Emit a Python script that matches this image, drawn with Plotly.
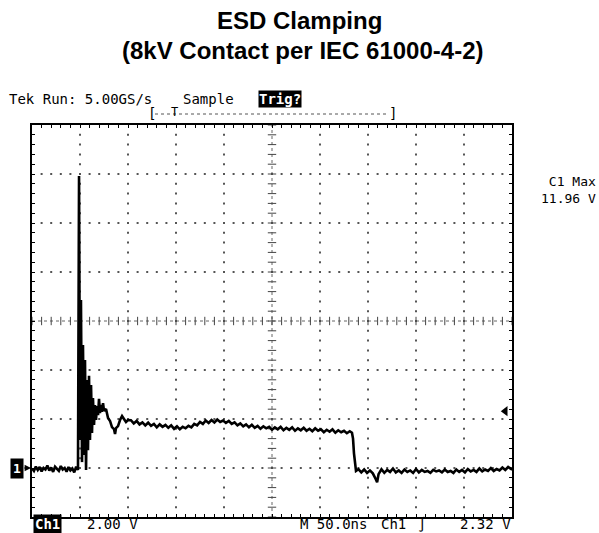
import numpy as np
import plotly.graph_objects as go

# ---------------- data ----------------
# time in ns (50 ns/div, 10 div), voltage in V (2 V/div, ground 1 div above bottom)
t_pre = [0, 2, 4, 6, 8, 10, 12, 14, 16, 18, 20, 22, 24, 26, 28, 30, 32, 34, 36, 38, 40, 42, 44, 46]
v_pre = [-0.02, -0.12, 0.06, -0.08, 0.04, -0.14, 0.0, -0.06, 0.1, -0.1, 0.02, -0.16,
         0.05, -0.04, -0.12, 0.08, -0.06, 0.0, -0.15, 0.04, -0.1, -0.02, -0.18, 0.06]

t_pulse = [47.9, 49.0, 50.0, 51.0, 52.1, 53.1, 54.2, 55.2, 56.3, 57.3, 58.3, 59.4, 60.4,
           61.5, 62.5, 63.5, 64.6, 65.6, 66.7, 67.7, 68.8, 69.8, 70.8, 71.9, 72.9, 74.0,
           75.0, 77.1, 79.2, 81.3, 83.3, 85.4, 86.5, 87.5, 89.6, 91.7, 93.8, 95.8, 97.9, 100.0]
v_pulse = [-0.08, 11.92, 1.14, 6.86, 0.24, 5.02, 0.53, 4.41, -0.08, 3.59, 0.73, 3.76, 1.14,
           3.39, 1.43, 2.86, 1.76, 2.57, 1.96, 2.53, 2.16, 2.82, 2.24, 2.57, 2.29, 2.65,
           2.33, 2.41, 2.04, 1.92, 1.67, 1.59, 1.39, 1.63, 1.71, 1.96, 2.12, 2.0, 1.88, 1.96]

t_plateau = [103, 106, 109, 112, 115, 118, 121, 124, 127, 130, 133, 136, 139, 142, 145, 148,
             151, 154, 157, 160, 163, 166, 169, 172, 175, 178, 181, 184, 187, 190, 193, 196,
             199, 202, 205, 208, 211, 214, 217, 220, 223, 226, 229, 232, 235, 238, 241, 244,
             247, 250, 253, 256, 259, 262, 265, 268, 271, 274, 277, 280, 283, 286, 289, 292,
             295, 298, 301, 304, 307, 310, 313, 316, 319, 322, 325, 328, 331]
v_plateau = [1.95, 1.82, 1.92, 1.78, 1.86, 1.74, 1.85, 1.72, 1.80, 1.66, 1.78, 1.68, 1.76, 1.64,
             1.74, 1.60, 1.70, 1.58, 1.68, 1.62, 1.72, 1.66, 1.80, 1.74, 1.88, 1.80, 1.94, 1.84,
             1.96, 1.86, 1.98, 1.88, 1.94, 1.84, 1.92, 1.80, 1.86, 1.74, 1.82, 1.70, 1.78, 1.66,
             1.76, 1.64, 1.72, 1.60, 1.70, 1.62, 1.68, 1.56, 1.66, 1.58, 1.68, 1.54, 1.64, 1.56,
             1.66, 1.52, 1.62, 1.54, 1.64, 1.52, 1.60, 1.50, 1.62, 1.52, 1.58, 1.46, 1.56, 1.48,
             1.58, 1.44, 1.54, 1.46, 1.52, 1.42, 1.50]

t_fall = [333.3, 334.4, 335.4, 336.5, 337.5]
v_fall = [1.44, 1.2, 0.6, 0.1, -0.12]

t_post = [340, 343, 346, 349, 352, 355, 358, 359.5, 361, 364, 367, 370, 373, 376, 379, 382,
          385, 388, 391, 394, 397, 400, 403, 406, 409, 412, 415, 418, 421, 424, 427, 430,
          433, 436, 439, 442, 445, 448, 451, 454, 457, 460, 463, 466, 469, 472, 475, 478,
          481, 484, 487, 490, 493, 496, 499, 500]
v_post = [-0.05, -0.18, -0.06, -0.2, -0.1, -0.22, -0.45, -0.58, -0.25, -0.05, -0.2, -0.08,
          -0.16, -0.02, -0.18, -0.1, -0.2, -0.06, -0.16, -0.1, -0.2, -0.04, -0.18, -0.08,
          -0.16, -0.12, -0.2, -0.08, -0.14, -0.1, -0.18, -0.06, -0.16, -0.12, -0.2, -0.06,
          -0.16, -0.08, -0.18, -0.04, -0.14, -0.08, -0.16, -0.02, -0.14, -0.06, -0.12, 0.0,
          -0.12, -0.04, -0.1, 0.02, -0.08, 0.04, -0.04, 0.02]

# scope settings
time_div_ns = 50
volt_div = 2.0
n_xdiv = 10
n_ydiv = 8
ground_div = 1          # ground marker one division above bottom
trigger_level = 2.32
c1_max = 11.96

# ---------------- figure ----------------
W, H = 599, 533
L, R, T, B = 32, 87, 125, 16
PW, PH = W - L - R, H - T - B

x_min, x_max = 0, time_div_ns * n_xdiv
y_min = -ground_div * volt_div
y_max = y_min + n_ydiv * volt_div


def px(x, y):
    """pixel position -> paper coordinates"""
    return (x - L) / PW, (H - B - y) / PH


time_ns = t_pre + t_pulse + t_plateau + t_fall + t_post
volts = v_pre + v_pulse + v_plateau + v_fall + v_post

fig = go.Figure()

# graticule dots (every 1/5 division along each major line)
x_major = [x_min + i * time_div_ns for i in range(n_xdiv + 1)]
y_major = [y_min + i * volt_div for i in range(n_ydiv + 1)]
x_minor = np.arange(x_min, x_max + 1e-9, time_div_ns / 5)
y_minor = np.arange(y_min, y_max + 1e-9, volt_div / 5)
x_center = (x_min + x_max) / 2
y_center = (y_min + y_max) / 2

gx, gy = [], []
for xm in x_major[1:-1]:
    if abs(xm - x_center) < 1e-9:
        continue
    for yv in y_minor[1:-1]:
        gx.append(xm)
        gy.append(yv)
for ym in y_major[1:-1]:
    if abs(ym - y_center) < 1e-9:
        continue
    for xv in x_minor[1:-1]:
        gx.append(xv)
        gy.append(ym)
fig.add_trace(go.Scatter(x=gx, y=gy, mode="markers",
                         marker=dict(symbol="square", size=2, color="#555"),
                         hoverinfo="skip"))

# center cross with tick marks
fig.add_shape(type="line", x0=x_center, x1=x_center, y0=y_min, y1=y_max,
              line=dict(color="#666", width=1, dash="dot"), layer="below")
fig.add_shape(type="line", x0=x_min, x1=x_max, y0=y_center, y1=y_center,
              line=dict(color="#666", width=1, dash="dot"), layer="below")
fig.add_trace(go.Scatter(x=[x_center] * len(y_minor), y=list(y_minor), mode="markers",
                         marker=dict(symbol="line-ew", size=6, line=dict(color="#444", width=1)),
                         hoverinfo="skip"))
fig.add_trace(go.Scatter(x=list(x_minor), y=[y_center] * len(x_minor), mode="markers",
                         marker=dict(symbol="line-ns", size=6, line=dict(color="#444", width=1)),
                         hoverinfo="skip"))

# waveform
fig.add_trace(go.Scatter(x=time_ns, y=volts, mode="lines",
                         line=dict(color="black", width=2.6), hoverinfo="skip"))

# trigger level marker (right edge)
fig.add_trace(go.Scatter(x=[x_max - 7], y=[trigger_level], mode="markers",
                         marker=dict(symbol="triangle-left", size=9, color="black"),
                         hoverinfo="skip"))

fig.update_xaxes(range=[x_min, x_max], showgrid=False, zeroline=False,
                 showline=True, linecolor="black", linewidth=2, mirror="allticks",
                 ticks="inside", ticklen=3, tickwidth=1, tickcolor="black",
                 tick0=x_min, dtick=time_div_ns / 5, showticklabels=False, fixedrange=True)
fig.update_yaxes(range=[y_min, y_max], showgrid=False, zeroline=False,
                 showline=True, linecolor="black", linewidth=2, mirror="allticks",
                 ticks="inside", ticklen=3, tickwidth=1, tickcolor="black",
                 tick0=y_min, dtick=volt_div / 5, showticklabels=False, fixedrange=True)

TITLE_FONT = dict(family="Liberation Sans", size=24, color="black")
TEK = dict(family="DejaVu Sans Mono", size=14, color="black")
TEK_INV = dict(family="DejaVu Sans Mono", size=14, color="white")

ann = []


def add_text(text, x, y, font, xanchor="left", bg=None, pad=0, align="left"):
    xp, yp = px(x, y)
    d = dict(text=text, x=xp, y=yp, xref="paper", yref="paper", showarrow=False,
             xanchor=xanchor, yanchor="middle", font=font, borderpad=pad, align=align)
    if bg:
        d["bgcolor"] = bg
    ann.append(d)


add_text("<b>ESD Clamping</b>", 299.5, 21, TITLE_FONT, "center")
add_text("<b>(8kV Contact per IEC 61000-4-2)</b>", 302, 50, TITLE_FONT, "center")

add_text("Tek Run: 5.00GS/s", 8, 99, TEK)
add_text("Sample", 182, 99, TEK)
add_text("<b>Trig?</b>", 258, 99, TEK_INV, bg="black")

# record view bracket
add_text("[", 147, 113, TEK)
add_text("T", 170, 112, dict(family="DejaVu Sans Mono", size=12, color="black"))
add_text("]", 388, 113, TEK)
x0p, y0p = px(155, 114)
x1p, _ = px(389, 114)
fig.add_shape(type="line", xref="paper", yref="paper", x0=x0p, x1=x1p, y0=y0p, y1=y0p,
              line=dict(color="#555", width=1, dash="dot"))

# ground marker "1 ->"
add_text("<b>1</b>", 10, 468, dict(family="DejaVu Sans Mono", size=13, color="white"),
         bg="black", pad=2)
gx0, gy0 = px(31, 468)
ann.append(dict(text="", x=gx0, y=gy0, xref="paper", yref="paper", showarrow=True,
                ax=-8, ay=0, arrowhead=2, arrowsize=0.8, arrowwidth=1.6, arrowcolor="black"))

# measurement readout
add_text(f"C1 Max<br>{c1_max:.2f} V", 597, 189.5,
         dict(family="DejaVu Sans Mono", size=13, color="black"), "right", align="right")

# bottom status line
add_text("<b>Ch1</b>", 33, 524, TEK_INV, bg="black", pad=1)
add_text(f"{volt_div:.2f} V", 86, 524, TEK)
add_text(f"M {time_div_ns:.1f}ns", 299, 524, TEK)
add_text("Ch1", 380, 524, TEK)
add_text("∫", 417, 524, TEK)
add_text(f"{trigger_level:.2f} V", 459, 524, TEK)

fig.update_layout(width=W, height=H, margin=dict(l=L, r=R, t=T, b=B),
                  paper_bgcolor="white", plot_bgcolor="white", showlegend=False,
                  annotations=ann)

fig.write_html("out.html", config={"displayModeBar": False},
               post_script="document.body.style.margin='0px';"
                           "document.body.style.overflow='hidden';")
